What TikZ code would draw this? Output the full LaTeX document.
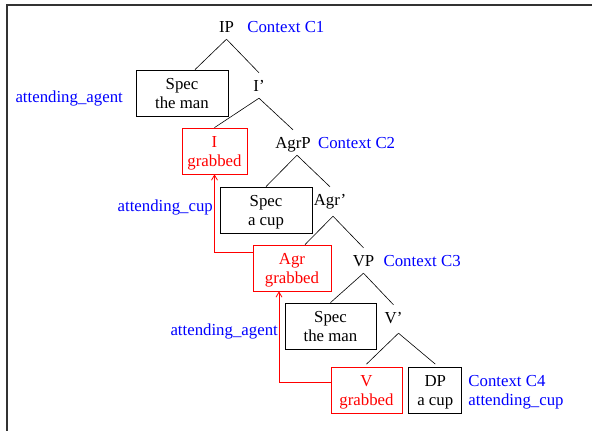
\documentclass[tikz,border=0pt]{standalone}
\usepackage{fontspec}
\setmainfont{Liberation Serif}
\usetikzlibrary{positioning}
\usetikzlibrary{arrows.meta}

\begin{document}
\begin{tikzpicture}[
x=1pt, y=-1pt,
font=\fontsize{16.8}{19}\selectfont,
catnode/.style={inner xsep=0pt, inner ysep=7pt, text height=11pt, text depth=0pt},
boxnode/.style={rectangle, draw=black, line width=0.8pt, minimum height=46pt, align=center, inner sep=1pt, text depth=0pt},
movednode/.style={boxnode, draw=red, text=red},
ctxlabel/.style={text=blue, inner sep=0pt, align=left, text depth=0pt},
branch/.style={line width=0.6pt},
movement/.style={draw=red, line width=0.8pt, -{Straight Barb[length=5pt, width=6pt]}},
]
\useasboundingbox (0,0) rectangle (592,431);
\draw[line width=1.2pt, black!80] (7,431) |- (592,5);

%Nodes
\node[catnode, anchor=base] (ip)     at (226.5,32) {IP};
\node[catnode, anchor=base] (ibar)   at (259,91)   {I'};
\node[catnode, anchor=base] (agrp)   at (293,148)  {AgrP};
\node[catnode, anchor=base] (agrbar) at (330,205)  {Agr'};
\node[catnode, anchor=base] (vp)     at (363.5,266) {VP};
\node[catnode, anchor=base] (vbar)   at (393.5,323) {V'};

\node[boxnode, minimum width=92pt]   (spec1)  at (182,93)     {Spec\\the man};
\node[movednode, minimum width=65pt] (ibox)   at (214.5,151)  {I\\grabbed};
\node[boxnode, minimum width=92pt]   (spec2)  at (266,210)    {Spec\\a cup};
\node[movednode, minimum width=78pt] (agrbox) at (292,268)    {Agr\\grabbed};
\node[boxnode, minimum width=91pt]   (spec3)  at (330.5,326)  {Spec\\the man};
\node[movednode, minimum width=71pt] (vbox)   at (366.5,390.5) {V\\grabbed};
\node[boxnode, minimum width=53pt]   (dp)     [right=6pt of vbox] {DP\\a cup};

%Labels
\node[ctxlabel] (ctx1) [base right=13pt of ip]   {Context C1};
\node[ctxlabel] (ctx2) [base right=7pt of agrp]  {Context C2};
\node[ctxlabel] (ctx3) [base right=9pt of vp]    {Context C3};
\node[ctxlabel] (ctx4) [right=6pt of dp]         {Context C4\\attending\_cup};
\node[ctxlabel, anchor=base east] (att1) at (123,102) {attending\_agent};
\node[ctxlabel, anchor=base east] (att2) at (213,211) {attending\_cup};
\node[ctxlabel, anchor=base east] (att3) at (278,335) {attending\_agent};

%Lines
\draw[branch] (ip.south) -- ([xshift=13pt]spec1.north);
\draw[branch] (ip.south) -- (ibar.north);
\draw[branch] (ibar.south) -- (ibox.north);
\draw[branch] (ibar.south) -- (agrp.north);
\draw[branch] ([xshift=4pt]agrp.south) -- (spec2.north);
\draw[branch] ([xshift=4pt]agrp.south) -- (agrbar.north);
\draw[branch] ([shift={(3pt,-4pt)}]agrbar.south) -- ([xshift=13pt]agrbox.north);
\draw[branch] ([shift={(3pt,-4pt)}]agrbar.south) -- (vp.north);
\draw[branch] (vp.south) -- (spec3.north);
\draw[branch] (vp.south) -- (vbar.north);
\draw[branch] ([shift={(5pt,-3pt)}]vbar.south) -- ([yshift=3pt]vbox.north);
\draw[branch] ([shift={(5pt,-3pt)}]vbar.south) -- ([yshift=3pt]dp.north);

%Movement
\draw[movement] ([yshift=16pt]agrbox.west) -| (ibox.south);
\draw[movement] ([yshift=8.5pt]vbox.west) -| ([xshift=-13pt]agrbox.south);
\end{tikzpicture}
\end{document}
